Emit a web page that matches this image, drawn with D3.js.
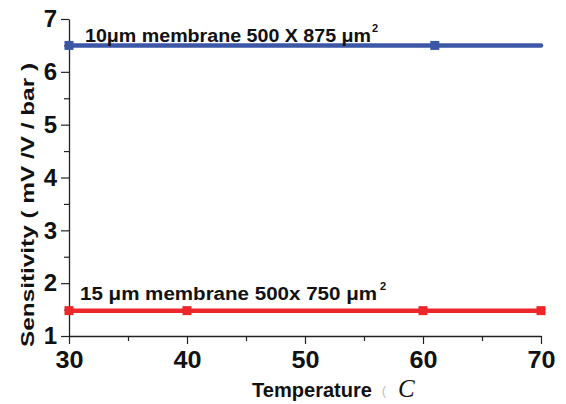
<!DOCTYPE html>
<html>
<head>
<meta charset="utf-8">
<script src="https://cdn.jsdelivr.net/npm/d3@7/dist/d3.min.js"></script>
<style>
  html, body { margin: 0; padding: 0; background: #fff; }
  svg { display: block; font-family: Arial, "Liberation Sans", sans-serif; }
</style>
</head>
<body>
<svg id="chart" width="566" height="404"></svg>
<script>
// Sensitivity vs temperature for two membrane geometries
const xTicks = [30, 40, 50, 60, 70];
const yTicks = [1, 2, 3, 4, 5, 6, 7];

const blueTemps = [30, 61, 70];
const blueValues = [6.5, 6.5, 6.5];
const blueMarked = [true, true, false];

const redTemps = [30, 40, 60, 70];
const redValues = [1.48, 1.48, 1.48, 1.48];
const redMarked = [true, true, true, true];

const svg = d3.select("#chart");
const margin = { left: 69, right: 25, top: 19, bottom: 68 };
const W = 566, H = 404;
const FONT = "Arial, 'Liberation Sans', sans-serif";

const x = d3.scaleLinear().domain([30, 70]).range([margin.left, W - margin.right]);
const y = d3.scaleLinear().domain([1, 7]).range([H - margin.bottom, margin.top]);

// X axis with minor ticks every 5
const xMinor = svg.append("g").attr("transform", `translate(0,${y(1)})`)
  .call(d3.axisBottom(x).tickValues(d3.range(35, 70, 10)).tickSize(5).tickFormat(""));
xMinor.select(".domain").remove();
const xMajor = svg.append("g").attr("transform", `translate(0,${y(1)})`)
  .call(d3.axisBottom(x).tickValues(xTicks).tickSize(8).tickSizeOuter(0).tickPadding(7).tickFormat(d3.format("d")));
xMajor.selectAll("text").attr("font-size", 24).attr("font-weight", "bold").attr("fill", "#111")
  .attr("font-family", FONT).attr("transform", "scale(1.05,1)");

// Y axis with minor ticks every 0.5
const yMinor = svg.append("g").attr("transform", `translate(${x(30)},0)`)
  .call(d3.axisLeft(y).tickValues(d3.range(1.5, 7, 1)).tickSize(5).tickFormat(""));
yMinor.select(".domain").remove();
const yMajor = svg.append("g").attr("transform", `translate(${x(30)},0)`)
  .call(d3.axisLeft(y).tickValues(yTicks).tickSize(8).tickSizeOuter(0).tickPadding(4).tickFormat(d3.format("d")));
yMajor.selectAll("text").attr("font-size", 24).attr("font-weight", "bold").attr("fill", "#111")
  .attr("font-family", FONT);

svg.selectAll(".domain").attr("stroke", "#222").attr("stroke-width", 1.3);
svg.selectAll(".tick line").attr("stroke", "#222").attr("stroke-width", 1.2);

// Series lines and markers
function drawSeries(temps, values, marked, color) {
  const pts = temps.map((t, i) => ({ t, v: values[i], m: marked[i] }));
  svg.append("path").datum(pts)
    .attr("fill", "none").attr("stroke", color).attr("stroke-width", 4.5)
    .attr("stroke-linecap", "round")
    .attr("d", d3.line().x(d => x(d.t)).y(d => y(d.v)));
  svg.selectAll(null).data(pts.filter(d => d.m)).enter().append("rect")
    .attr("x", d => x(d.t) - 4.5).attr("y", d => y(d.v) - 4.5)
    .attr("width", 9).attr("height", 9).attr("fill", color);
}
drawSeries(blueTemps, blueValues, blueMarked, "#3b57a6");
drawSeries(redTemps, redValues, redMarked, "#ec2629");

// Series labels
function label(xp, yp, text, width, supX) {
  svg.append("text").attr("x", xp).attr("y", yp)
    .attr("font-size", 18).attr("font-weight", "bold").attr("fill", "#111")
    .attr("textLength", width).attr("lengthAdjust", "spacingAndGlyphs")
    .text(text);
  svg.append("text").attr("x", supX).attr("y", yp - 10)
    .attr("font-size", 11).attr("font-weight", "bold").attr("fill", "#111")
    .text("2");
}
label(85, 42, "10μm membrane 500 X 875 μm", 286, 372);
label(80, 300, "15 μm membrane 500x 750 μm", 297, 380);

// Axis titles
svg.append("text")
  .attr("transform", `translate(34,205) rotate(-90)`)
  .attr("text-anchor", "middle").attr("font-size", 18).attr("font-weight", "bold").attr("fill", "#111")
  .attr("textLength", 284).attr("lengthAdjust", "spacingAndGlyphs")
  .text("Sensitivity ( mV /V / bar )");

svg.append("text").attr("x", 252).attr("y", 397).attr("fill", "#111")
  .attr("font-size", 20.5).attr("font-weight", "bold")
  .attr("textLength", 120).attr("lengthAdjust", "spacingAndGlyphs")
  .text("Temperature");
svg.append("text").attr("x", 382).attr("y", 395).attr("fill", "#bbb")
  .attr("font-size", 12).text("(");
svg.append("text").attr("x", 398).attr("y", 397).attr("fill", "#111")
  .attr("font-size", 25).attr("font-style", "italic")
  .attr("font-family", "'Liberation Serif', 'DejaVu Serif', serif").text("C");
</script>
</body>
</html>
